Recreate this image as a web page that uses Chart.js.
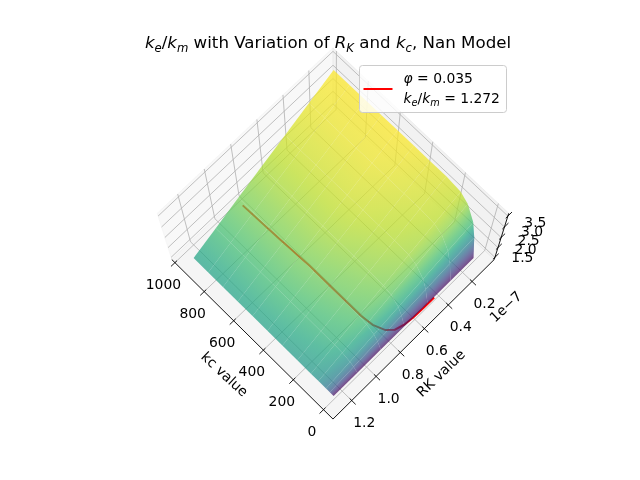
<!DOCTYPE html>
<html><head><meta charset="utf-8">
<script src="https://cdn.jsdelivr.net/npm/chart.js@4/dist/chart.umd.min.js"></script>
<style>html,body{margin:0;padding:0;background:#fff;overflow:hidden}</style>
</head><body>
<canvas id="c" width="640" height="480" style="display:block;width:640px;height:480px"></canvas>
<script>
// ---------------- data ----------------
const kcValues = [10, 35, 60, 110, 160, 250, 350, 450, 550, 650, 750, 850, 950];
const rkValues = [0.096, 0.290, 0.483, 0.677, 0.871, 1.064, 1.258]; // x 1e-7
// surface height (ke/km): one row per kc value, one column per RK value
const keHeight = [
  [1.43,1.43,1.43,1.43,1.43,1.43,1.43],
  [2.29,2.15,2.00,1.86,1.72,1.57,1.43],
  [2.83,2.60,2.36,2.13,1.90,1.66,1.43],
  [3.32,3.01,2.69,2.38,2.06,1.75,1.43],
  [3.52,3.17,2.82,2.47,2.13,1.78,1.43],
  [3.58,3.22,2.86,2.51,2.15,1.79,1.43],
  [3.58,3.22,2.86,2.51,2.15,1.79,1.43],
  [3.58,3.22,2.86,2.51,2.15,1.79,1.43],
  [3.58,3.22,2.86,2.51,2.15,1.79,1.43],
  [3.58,3.22,2.86,2.51,2.15,1.79,1.43],
  [3.58,3.22,2.86,2.51,2.15,1.79,1.43],
  [3.58,3.22,2.86,2.51,2.15,1.79,1.43],
  [3.58,3.22,2.86,2.51,2.15,1.79,1.43]
];
// face colour level (ke/km on the colour map)
const keColour = [
  [1.49,1.49,1.49,1.49,1.48,1.48,1.47],
  [2.40,2.37,2.33,2.27,2.19,2.10,1.98],
  [2.89,2.85,2.79,2.70,2.58,2.44,2.26],
  [3.26,3.20,3.13,3.02,2.87,2.69,2.47],
  [3.41,3.35,3.27,3.15,2.99,2.79,2.56],
  [3.47,3.41,3.33,3.21,3.04,2.84,2.59],
  [3.52,3.45,3.37,3.24,3.08,2.87,2.62],
  [3.56,3.49,3.41,3.28,3.11,2.90,2.64],
  [3.58,3.52,3.43,3.30,3.13,2.91,2.66],
  [3.58,3.52,3.43,3.30,3.13,2.91,2.66],
  [3.58,3.52,3.43,3.30,3.13,2.91,2.66],
  [3.58,3.52,3.43,3.30,3.13,2.91,2.66],
  [3.58,3.52,3.43,3.30,3.13,2.91,2.66]
];
// red curve (phi = 0.035, ke/km = 1.272)
const lineKc = [8, 8, 10, 16, 30, 60, 120, 190, 365, 535, 723, 971];
const lineRk = [0.43, 0.52, 0.60, 0.67, 0.73, 0.77, 0.80, 0.81, 0.81, 0.81, 0.82, 0.83];
const lineZ = 1.43;
// axes
const kcLimits = [-41, 1000];
const rkLimits = [0.039, 1.326];
const zLimits = [1.43, 3.58];
const kcTicks = [0, 200, 400, 600, 800, 1000];
const rkTicks = [0.2, 0.4, 0.6, 0.8, 1.0, 1.2];
const zTicks = [1.5, 2.0, 2.5, 3.0, 3.5];
const kcTickLabels = ['0','200','400','600','800','1000'];
const rkTickLabels = ['0.2','0.4','0.6','0.8','1.0','1.2'];
const zTickLabels = ['1.5','2.0','2.5','3.0','3.5'];

// ---------------- 3D view (matplotlib-like perspective) ----------------
const ELEV = 75*Math.PI/180, AZIM = 135*Math.PI/180, DIST = 10;
const asp0 = [4,4,3]; const nA = Math.hypot(...asp0);
const A = asp0.map(a => a*1.8294640721620434/nA);
const Rc = A.map(a => a/2);
const W = [Math.cos(ELEV)*Math.cos(AZIM), Math.cos(ELEV)*Math.sin(AZIM), Math.sin(ELEV)];
let U = [-W[1], W[0], 0]; const nU = Math.hypot(...U); U = U.map(a => a/nU);
const V = [W[1]*U[2]-W[2]*U[1], W[2]*U[0]-W[0]*U[2], W[0]*U[1]-W[1]*U[0]];
const dot = (a,b) => a[0]*b[0]+a[1]*b[1]+a[2]*b[2];
function toQ(kc, rk, z){
  return [(kc-kcLimits[0])/(kcLimits[1]-kcLimits[0])*A[0]-Rc[0],
          (rk-rkLimits[0])/(rkLimits[1]-rkLimits[0])*A[1]-Rc[1],
          (z-zLimits[0])/(zLimits[1]-zLimits[0])*A[2]-Rc[2]];
}
function project(kc, rk, z){
  const Q = toQ(kc, rk, z); const den = DIST - dot(W,Q);
  return {x: dot(U,Q)/den, y: dot(V,Q)/den};
}
function depth(kc, rk, z){ return dot(W, toQ(kc, rk, z)); }
const pad = (l) => (l[1]-l[0])/48;
const KB = [kcLimits[0]-pad(kcLimits), kcLimits[1]+pad(kcLimits)];
const RB = [rkLimits[0]-pad(rkLimits), rkLimits[1]+pad(rkLimits)];
const ZB = [zLimits[0]-pad(zLimits), zLimits[1]+pad(zLimits)];

// viridis
const VIR = [[68,1,84],[72,36,117],[65,68,135],[53,95,141],[42,120,142],[33,145,140],[34,168,132],[68,191,112],[122,209,81],[189,223,38],[253,231,37]];
function viridis(t, a){
  t = Math.max(0, Math.min(1, t)); const s = t*10; const i = Math.min(9, Math.floor(s)); const f = s-i;
  const c = VIR[i].map((v,k) => Math.round(v+(VIR[i+1][k]-v)*f));
  return `rgba(${c[0]},${c[1]},${c[2]},${a})`;
}
const normC = v => (v - zLimits[0])/(zLimits[1]-zLimits[0]);
const ALPHA = 0.72;

function P(chart, kc, rk, z){
  const p = project(kc, rk, z);
  return [chart.scales.x.getPixelForValue(p.x), chart.scales.y.getPixelForValue(p.y)];
}

// gradient fill fitted to the four corner colour levels of a facet
function facetFill(corners, flat){
  return (c) => {
    const ch = c.chart;
    if (!ch || !ch.chartArea || !ch.scales.x) return viridis(normC(flat), ALPHA);
    const px = corners.map(k => P(ch, k[0], k[1], k[2]));
    const xm = px.reduce((s,p)=>s+p[0],0)/4, ym = px.reduce((s,p)=>s+p[1],0)/4;
    const cm = corners.reduce((s,k)=>s+k[3],0)/4;
    let sxx=0, sxy=0, syy=0, sxc=0, syc=0;
    px.forEach((p,i) => { const X=p[0]-xm, Y=p[1]-ym, C=corners[i][3]-cm; sxx+=X*X; sxy+=X*Y; syy+=Y*Y; sxc+=X*C; syc+=Y*C; });
    const det = sxx*syy - sxy*sxy;
    if (Math.abs(det) < 1e-9) return viridis(normC(flat), ALPHA);
    const b = (sxc*syy - syc*sxy)/det, d = (syc*sxx - sxc*sxy)/det;
    const gl = Math.hypot(b,d);
    if (gl < 1e-6) return viridis(normC(flat), ALPHA);
    const nx = b/gl, ny = d/gl;
    let smin = Infinity, smax = -Infinity;
    px.forEach(p => { const s = (p[0]-xm)*nx + (p[1]-ym)*ny; smin = Math.min(smin,s); smax = Math.max(smax,s); });
    const g = ch.ctx.createLinearGradient(xm+nx*smin, ym+ny*smin, xm+nx*smax, ym+ny*smax);
    const c0 = cm + gl*smin, c1 = cm + gl*smax;
    for (let k = 0; k <= 6; k++) g.addColorStop(k/6, viridis(normC(c0 + (c1-c0)*k/6), ALPHA));
    return g;
  };
}

// ---------------- datasets ----------------
const datasets = [];
datasets.push({
  data: lineKc.map((k,i) => project(k, lineRk[i], lineZ)),
  borderColor: '#ff0000', borderWidth: 2, pointRadius: 0, fill: false, clip: false, tension: 0
});
const quads = [];
for (let i = 0; i < kcValues.length-1; i++) {
  for (let j = 0; j < rkValues.length-1; j++) {
    const idx = [[i,j],[i+1,j],[i+1,j+1],[i,j+1]];
    const corners = idx.map(([a,b]) => [kcValues[a], rkValues[b], keHeight[a][b], keColour[a][b]]);
    const pts = corners.map(k => project(k[0], k[1], k[2]));
    pts.push(pts[0]);
    const dep = corners.reduce((s,k) => s + depth(k[0],k[1],k[2]), 0)/4;
    const col = corners.reduce((s,k) => s + k[3], 0)/4;
    quads.push({pts, dep, col, corners});
  }
}
quads.sort((a,b) => a.dep - b.dep);
quads.forEach(q => {
  datasets.push({
    data: q.pts, fill: 'shape', backgroundColor: facetFill(q.corners, q.col),
    borderColor: 'rgba(0,0,0,0)', borderWidth: 0.5, pointRadius: 0, clip: false, tension: 0
  });
});
datasets.forEach((d,k) => { d.order = -k; });

// ---------------- drawing helpers ----------------
function poly(ctx, pts, fill, stroke, lw){
  ctx.beginPath(); pts.forEach((p,i) => i ? ctx.lineTo(p[0],p[1]) : ctx.moveTo(p[0],p[1]));
  if (fill) { ctx.closePath(); ctx.fillStyle = fill; ctx.fill(); }
  if (stroke) { ctx.strokeStyle = stroke; ctx.lineWidth = lw; ctx.stroke(); }
}
const FONT = '"DejaVu Sans", "Liberation Sans", sans-serif';
function rich(ctx, pieces, x, y, size, align){
  const fonts = pieces.map(p => `${p.it?'italic ':''}${p.sub? size*0.7 : size}px ${FONT}`);
  let w = 0; const ws = pieces.map((p,i) => { ctx.font = fonts[i]; const m = ctx.measureText(p.t).width; w += m; return m; });
  let cx = align === 'center' ? x - w/2 : x;
  ctx.textAlign = 'left'; ctx.textBaseline = 'alphabetic'; ctx.fillStyle = '#000';
  pieces.forEach((p,i) => { ctx.font = fonts[i]; ctx.fillText(p.t, cx, y + (p.sub ? size*0.22 : 0)); cx += ws[i]; });
}
function rotText(ctx, t, x, y, ang, size){
  ctx.save(); ctx.translate(x,y); ctx.rotate(ang*Math.PI/180);
  ctx.font = `${size}px ${FONT}`; ctx.textAlign='center'; ctx.textBaseline='middle'; ctx.fillStyle='#000';
  ctx.fillText(t, 0, 0); ctx.restore();
}

const axes3d = {
  id: 'axes3d',
  beforeDatasetsDraw(chart){
    const ctx = chart.ctx; ctx.save();
    // panes
    poly(ctx, [P(chart,KB[0],RB[0],ZB[0]),P(chart,KB[1],RB[0],ZB[0]),P(chart,KB[1],RB[1],ZB[0]),P(chart,KB[0],RB[1],ZB[0])], 'rgba(236,236,236,0.5)', 'rgba(236,236,236,0.5)', 1);
    poly(ctx, [P(chart,KB[1],RB[0],ZB[0]),P(chart,KB[1],RB[1],ZB[0]),P(chart,KB[1],RB[1],ZB[1]),P(chart,KB[1],RB[0],ZB[1])], 'rgba(242,242,242,0.5)', 'rgba(242,242,242,0.5)', 1);
    poly(ctx, [P(chart,KB[0],RB[0],ZB[0]),P(chart,KB[1],RB[0],ZB[0]),P(chart,KB[1],RB[0],ZB[1]),P(chart,KB[0],RB[0],ZB[1])], 'rgba(230,230,230,0.5)', 'rgba(230,230,230,0.5)', 1);
    // grid
    const g = '#b0b0b0';
    kcTicks.forEach(k => poly(ctx, [P(chart,k,RB[1],ZB[0]),P(chart,k,RB[0],ZB[0]),P(chart,k,RB[0],ZB[1])], null, g, 0.8));
    rkTicks.forEach(r => poly(ctx, [P(chart,KB[0],r,ZB[0]),P(chart,KB[1],r,ZB[0]),P(chart,KB[1],r,ZB[1])], null, g, 0.8));
    zTicks.forEach(z => poly(ctx, [P(chart,KB[1],RB[1],z),P(chart,KB[1],RB[0],z),P(chart,KB[0],RB[0],z)], null, g, 0.8));
    // axis lines
    poly(ctx, [P(chart,KB[0],RB[1],ZB[0]),P(chart,KB[1],RB[1],ZB[0])], null, '#000', 0.9);
    poly(ctx, [P(chart,KB[0],RB[0],ZB[0]),P(chart,KB[0],RB[1],ZB[0])], null, '#000', 0.9);
    poly(ctx, [P(chart,KB[0],RB[0],ZB[0]),P(chart,KB[0],RB[0],ZB[1])], null, '#000', 0.9);
    // ticks + labels
    const rr = rkLimits[1]-rkLimits[0], kr = kcLimits[1]-kcLimits[0];
    ctx.font = `13.9px ${FONT}`; ctx.textAlign='center'; ctx.textBaseline='middle'; ctx.fillStyle='#000';
    kcTicks.forEach((k,i) => {
      poly(ctx, [P(chart,k,RB[1]-0.013*rr,ZB[0]),P(chart,k,RB[1]+0.025*rr,ZB[0])], null, '#000', 0.9);
      const p = P(chart,k,RB[1],ZB[0]); ctx.fillText(kcTickLabels[i], p[0]-11.5, p[1]+22.5);
    });
    rkTicks.forEach((r,i) => {
      poly(ctx, [P(chart,KB[0]-0.025*kr,r,ZB[0]),P(chart,KB[0]+0.013*kr,r,ZB[0])], null, '#000', 0.9);
      const p = P(chart,KB[0],r,ZB[0]); ctx.fillText(rkTickLabels[i], p[0]+12.5, p[1]+22.5);
    });
    zTicks.forEach((z,i) => {
      poly(ctx, [P(chart,KB[0],RB[0]-0.025*rr,z),P(chart,KB[0],RB[0]+0.013*rr,z)], null, '#000', 0.9);
      const p = P(chart,KB[0],RB[0],z); ctx.fillText(zTickLabels[i], p[0]+27.5, p[1]+1+3*(z-1.5));
    });
    rotText(ctx, 'kc value', 224, 375, 43, 13.9);
    rotText(ctx, 'RK value', 441.5, 374, -44, 13.9);
    rotText(ctx, '1e\u22127', 506.5, 307.5, -43, 13.9);
    ctx.restore();
  },
  afterDraw(chart){
    const ctx = chart.ctx; ctx.save();
    // title
    rich(ctx, [{t:'k',it:1},{t:'e',it:1,sub:1},{t:'/'},{t:'k',it:1},{t:'m',it:1,sub:1},
      {t:' with Variation of '},{t:'R',it:1},{t:'K',it:1,sub:1},{t:' and '},{t:'k',it:1},{t:'c',it:1,sub:1},{t:', Nan Model'}],
      328, 48, 16.67, 'center');
    // legend
    const x0 = 359.5, y0 = 65.5, x1 = 506.5, y1 = 112.5, r = 3;
    ctx.beginPath();
    ctx.moveTo(x0+r,y0); ctx.lineTo(x1-r,y0); ctx.arcTo(x1,y0,x1,y0+r,r); ctx.lineTo(x1,y1-r); ctx.arcTo(x1,y1,x1-r,y1,r);
    ctx.lineTo(x0+r,y1); ctx.arcTo(x0,y1,x0,y1-r,r); ctx.lineTo(x0,y0+r); ctx.arcTo(x0,y0,x0+r,y0,r); ctx.closePath();
    ctx.fillStyle = 'rgba(255,255,255,0.8)'; ctx.fill(); ctx.strokeStyle = '#cccccc'; ctx.lineWidth = 1; ctx.stroke();
    ctx.beginPath(); ctx.moveTo(363.5, 89); ctx.lineTo(392.5, 89); ctx.strokeStyle = '#ff0000'; ctx.lineWidth = 2; ctx.stroke();
    rich(ctx, [{t:'\u03c6',it:1},{t:' = 0.035'}], 403.5, 83, 13.9, 'left');
    rich(ctx, [{t:'k',it:1},{t:'e',it:1,sub:1},{t:'/'},{t:'k',it:1},{t:'m',it:1,sub:1},{t:' = 1.272'}], 403.5, 102.5, 13.9, 'left');
    ctx.restore();
  }
};

new Chart(document.getElementById('c'), {
  type: 'line',
  data: { datasets },
  options: {
    responsive: false, animation: false, devicePixelRatio: 1,
    layout: { padding: { left: 143.2, right: 127.2, top: 57.6, bottom: 52.8 } },
    scales: {
      x: { type: 'linear', min: -0.095, max: 0.09, display: false },
      y: { type: 'linear', min: -0.095, max: 0.09, display: false }
    },
    plugins: { legend: { display: false }, title: { display: false }, tooltip: { enabled: false } },
    elements: { line: { tension: 0 } }
  },
  plugins: [axes3d]
});
</script>
</body></html>
